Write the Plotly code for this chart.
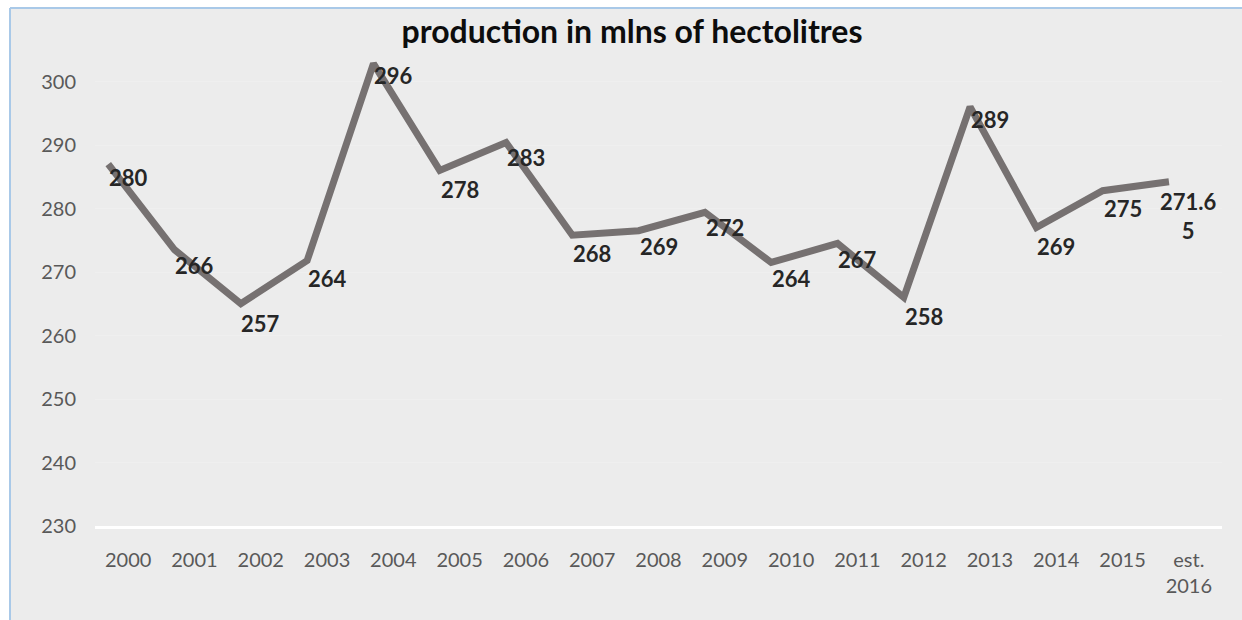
import plotly.graph_objects as go

# ---- data ----
categories = ["2000", "2001", "2002", "2003", "2004", "2005", "2006", "2007", "2008",
              "2009", "2010", "2011", "2012", "2013", "2014", "2015", "est.<br>2016"]
# position of the drawn line (as it appears against the y axis)
line_values = [287, 273.5, 265, 271.8, 302.8, 286, 290.4, 275.8, 276.5,
               279.4, 271.5, 274.5, 266, 296, 277, 282.8, 284.2]
# data labels as printed
label_values = [280, 266, 257, 264, 296, 278, 283, 268, 269,
                272, 264, 267, 258, 289, 269, 275, 271.65]
label_texts = ["280", "266", "257", "264", "296", "278", "283", "268", "269",
               "272", "264", "267", "258", "289", "269", "275", "271.6<br>5"]
y_ticks = [230, 240, 250, 260, 270, 280, 290, 300]
title_text = "production in mlns of hectolitres"

# ---- layout geometry ----
W, H = 1242, 620
L, R, T, B = 95, 20, 18, 94
PW, PH = W - L - R, H - T - B


def px_x(px):
    return (px - L) / PW


def px_y(py):
    return (H - B - py) / PH


n = len(categories)
idx = list(range(n))
LINE_SHIFT = 0.3  # the drawn line sits a little left of the category centres

FONT = "Lato, 'Open Sans', Arial, sans-serif"

fig = go.Figure()

fig.add_trace(go.Scatter(
    x=idx, y=line_values, mode="lines",
    line=dict(color="#767171", width=7),
    xaxis="x2", yaxis="y", hoverinfo="skip", showlegend=False,
))

annotations = []
for i, (v, t) in enumerate(zip(label_values, label_texts)):
    annotations.append(dict(
        x=i, y=v, xref="x", yref="y", text=t, showarrow=False,
        xanchor="center", yanchor="bottom", yshift=16, align="center",
        font=dict(family=FONT, size=22, color="#262626", weight="bold"),
    ))

shapes = [
    dict(type="rect", xref="paper", yref="paper", layer="below",
         x0=px_x(10), x1=px_x(W + 5), y0=px_y(H + 5), y1=px_y(8),
         fillcolor="#ececec", line=dict(width=0)),
    dict(type="line", xref="paper", yref="paper", layer="above",
         x0=px_x(10), x1=px_x(10), y0=px_y(H + 5), y1=px_y(8),
         line=dict(color="#a9c9e8", width=2)),
    dict(type="line", xref="paper", yref="paper", layer="above",
         x0=px_x(10), x1=px_x(W + 5), y0=px_y(8), y1=px_y(8),
         line=dict(color="#a9c9e8", width=2)),
]

fig.update_layout(
    width=W, height=H,
    margin=dict(l=L, r=R, t=T, b=B),
    paper_bgcolor="white",
    plot_bgcolor="rgba(0,0,0,0)",
    showlegend=False,
    title=dict(text="<b>" + title_text + "</b>", xref="container", yref="container",
               x=632 / W, y=1 - 32 / H, xanchor="center", yanchor="middle",
               font=dict(family=FONT, size=32, color="#0d0d0d")),
    xaxis=dict(
        range=[-0.5, n - 0.5], tickmode="array", tickvals=idx, ticktext=categories,
        showgrid=False, zeroline=False, showline=True, linecolor="#ffffff", linewidth=3,
        ticks="outside", ticklen=14, tickcolor="rgba(0,0,0,0)",
        tickfont=dict(family=FONT, size=20, color="#595959"),
    ),
    xaxis2=dict(
        range=[-0.5 + LINE_SHIFT, n - 0.5 + LINE_SHIFT], overlaying="x",
        visible=False,
    ),
    yaxis=dict(
        range=[230, 310], tickmode="array", tickvals=y_ticks,
        showgrid=True, gridcolor="#efefef", gridwidth=1, zeroline=False,
        showline=False, ticks="outside", ticklen=14, tickcolor="rgba(0,0,0,0)",
        tickfont=dict(family=FONT, size=20, color="#595959"),
    ),
    annotations=annotations,
    shapes=shapes,
)

fig.write_html("out.html")
